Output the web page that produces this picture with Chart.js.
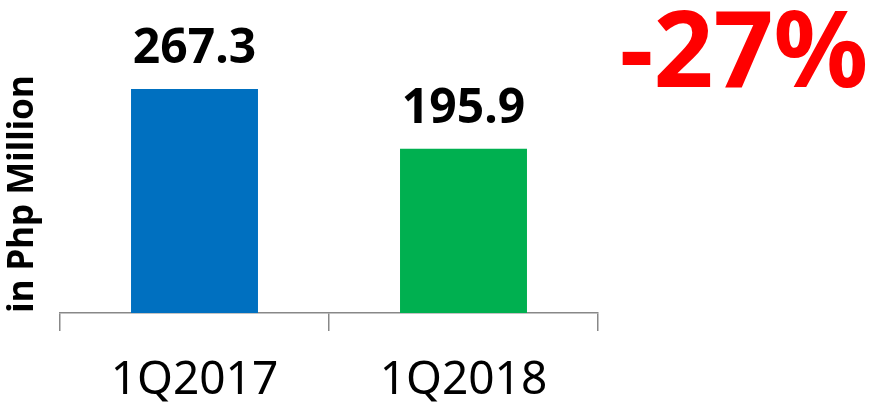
<!DOCTYPE html>
<html>
<head>
<meta charset="utf-8">
<script src="https://cdn.jsdelivr.net/npm/chart.js@4/dist/chart.umd.min.js"></script>
<style>
  html, body { margin: 0; padding: 0; background: #fff; }
  #wrap { width: 870px; height: 405px; position: relative; }
</style>
</head>
<body>
<div id="wrap"><canvas id="chart"></canvas></div>
<script>
const quarters = ['1Q2017', '1Q2018'];
const income = [267.3, 195.9];
const barColors = ['#0070C0', '#00B050'];
const axisTitle = 'in Php Million';
const changeLabel = '-27%';

const FONT = '"Noto Sans", "Open Sans", sans-serif';

// value labels, rotated axis title and the change callout
const annotate = {
  id: 'annotate',
  afterDatasetsDraw(chart) {
    const ctx = chart.ctx;
    const meta = chart.getDatasetMeta(0);
    ctx.save();
    ctx.fillStyle = '#000';
    ctx.font = `bold 48px ${FONT}`;
    ctx.textAlign = 'center';
    ctx.textBaseline = 'alphabetic';
    meta.data.forEach((bar, i) => {
      ctx.fillText(income[i].toFixed(1), bar.x, bar.y - 26);
    });

    ctx.translate(23, 194);
    ctx.rotate(-Math.PI / 2);
    ctx.font = `bold 35px ${FONT}`;
    ctx.textBaseline = 'middle';
    ctx.fillText(axisTitle, 0, 0);
    ctx.restore();

    ctx.save();
    ctx.fillStyle = '#FF0000';
    ctx.font = `bold 105px ${FONT}`;
    ctx.textAlign = 'center';
    ctx.textBaseline = 'alphabetic';
    ctx.fillText(changeLabel, 744, 87);
    ctx.restore();
  }
};

new Chart(document.getElementById('chart'), {
  type: 'bar',
  data: {
    labels: quarters,
    datasets: [{
      data: income,
      backgroundColor: barColors,
      borderWidth: 0,
      categoryPercentage: 1,
      barPercentage: 0.472
    }]
  },
  options: {
    responsive: true,
    maintainAspectRatio: false,
    animation: false,
    layout: { padding: { left: 60, right: 272, top: 61.6, bottom: 0 } },
    plugins: { legend: { display: false }, tooltip: { enabled: false } },
    scales: {
      y: { display: false, min: 0, max: 300 },
      x: {
        afterFit(axis) { axis.height = 92; },
        border: { display: true, color: '#888', width: 1.5 },
        grid: { display: true, offset: true, drawOnChartArea: false, tickLength: 18, color: '#888', lineWidth: 1.5 },
        ticks: { color: '#000', padding: 22, font: { family: FONT, size: 46 } }
      }
    }
  },
  plugins: [annotate]
});
</script>
</body>
</html>
